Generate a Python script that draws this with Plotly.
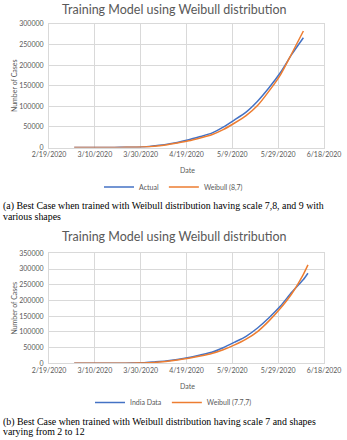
import plotly.graph_objects as go

# ---------------- data ----------------
dates_a = ["2020-03-01", "2020-03-06", "2020-03-11", "2020-03-16", "2020-03-21", "2020-03-26",
           "2020-03-31", "2020-04-05", "2020-04-10", "2020-04-15", "2020-04-20", "2020-04-25",
           "2020-04-30", "2020-05-05", "2020-05-10", "2020-05-15", "2020-05-20", "2020-05-25",
           "2020-05-30", "2020-06-04", "2020-06-09"]
actual_a = [3, 31, 62, 114, 330, 727, 1397, 4288, 7600, 12380, 18600, 26500,
            34860, 49400, 67150, 85940, 112360, 144950, 182140, 226770, 266598]
weibull_a = [2, 15, 40, 90, 220, 520, 1100, 2900, 6300, 10900, 16300, 23300,
             31000, 43500, 59500, 77500, 102000, 137000, 176500, 229000, 283000]

dates_b = dates_a + ["2020-06-11"]
actual_b = actual_a + [286579]
weibull_b = [1, 10, 30, 75, 190, 470, 1050, 2700, 6000, 10500, 16000, 23000,
             31000, 43000, 58500, 77000, 101000, 135000, 175000, 222000, 283000, 313000]

x_tickvals = ["2020-02-19", "2020-03-10", "2020-03-30", "2020-04-19", "2020-05-09", "2020-05-29", "2020-06-18"]
x_ticktext = ["2/19/2020", "3/10/2020", "3/30/2020", "4/19/2020", "5/9/2020", "5/29/2020", "6/18/2020"]

title_text = "Training Model using Weibull distribution"
y_title = "Number of Cases"
x_title = "Date"
names_a = ["Actual", "Weibull (8,7)"]
names_b = ["India Data", "Weibull (7.7,7)"]
caption_a = ["(a) Best Case when trained with Weibull distribution having scale 7,8, and 9 with",
             "various shapes"]
caption_b = ["(b) Best Case when trained with Weibull distribution having scale 7 and shapes",
             "varying from 2 to 12"]

# ---------------- style ----------------
W, H = 347, 440
BLUE = "#4472C4"
ORANGE = "#ED7D31"
GRID = "#D9D9D9"
TXT = "#595959"
SANS = "Lato"
SERIF = "Liberation Serif"


def py(p):
    return 1 - p / H


def px(p):
    return p / W


fig = go.Figure()
fig.add_trace(go.Scatter(x=dates_a, y=actual_a, name=names_a[0], mode="lines",
                         line=dict(color=BLUE, width=1.5, shape="spline", smoothing=0.6),
                         xaxis="x", yaxis="y", legend="legend"))
fig.add_trace(go.Scatter(x=dates_a, y=weibull_a, name=names_a[1], mode="lines",
                         line=dict(color=ORANGE, width=1.5, shape="spline", smoothing=0.6),
                         xaxis="x", yaxis="y", legend="legend"))
fig.add_trace(go.Scatter(x=dates_b, y=actual_b, name=names_b[0], mode="lines",
                         line=dict(color=BLUE, width=1.5, shape="spline", smoothing=0.6),
                         xaxis="x2", yaxis="y2", legend="legend2"))
fig.add_trace(go.Scatter(x=dates_b, y=weibull_b, name=names_b[1], mode="lines",
                         line=dict(color=ORANGE, width=1.5, shape="spline", smoothing=0.6),
                         xaxis="x2", yaxis="y2", legend="legend2"))

xax = dict(type="date", range=["2020-02-19", "2020-06-18"], tickvals=x_tickvals, ticktext=x_ticktext,
           showgrid=True, gridcolor=GRID, gridwidth=1, showline=True, linecolor=GRID, linewidth=1,
           mirror=True, zeroline=False, ticks="", tickfont=dict(family=SANS, size=7, color=TXT),
           domain=[px(49), px(324)], fixedrange=True, automargin=False)
yax = dict(showgrid=True, gridcolor=GRID, gridwidth=1, showline=True, linecolor=GRID, linewidth=1,
           mirror=True, zeroline=False, ticks="", tickformat="d", dtick=50000,
           ticklabelstandoff=3, automargin=False,
           title=dict(text=y_title, font=dict(family=SANS, size=7, color=TXT), standoff=0),
           tickfont=dict(family=SANS, size=7, color=TXT), fixedrange=True)

legend_common = dict(orientation="h", xanchor="center", x=0.5, yanchor="middle",
                     font=dict(family=SANS, size=7, color=TXT), bgcolor="rgba(0,0,0,0)",
                     itemwidth=30, tracegroupgap=0)

fig.update_layout(
    width=W, height=H, margin=dict(l=0, r=0, t=0, b=0, autoexpand=False),
    paper_bgcolor="white", plot_bgcolor="white",
    xaxis=dict(xax, anchor="y"),
    yaxis=dict(yax, range=[0, 300000], domain=[py(147.5), py(24)], anchor="x"),
    xaxis2=dict(xax, anchor="y2"),
    yaxis2=dict(yax, range=[0, 350000], domain=[py(363.3), py(253.3)], anchor="x2"),
    legend=dict(legend_common, y=py(187)),
    legend2=dict(legend_common, y=py(402.5)),
    showlegend=True,
    hovermode=False,
)

ann = []
for yc in (10, 236.7):
    ann.append(dict(text=title_text, x=px(174), y=py(yc), xref="paper", yref="paper",
                    xanchor="center", yanchor="middle", showarrow=False,
                    font=dict(family=SANS, size=12.5, color=TXT)))
for yc in (170, 385.7):
    ann.append(dict(text=x_title, x=px(187), y=py(yc), xref="paper", yref="paper",
                    xanchor="center", yanchor="middle", showarrow=False,
                    font=dict(family=SANS, size=7, color=TXT)))
for lines, ys in ((caption_a, (206.5, 216.5)), (caption_b, (421.7, 431.2))):
    for t, yc in zip(lines, ys):
        ann.append(dict(text=t, x=px(1), y=py(yc), xref="paper", yref="paper",
                        xanchor="left", yanchor="middle", showarrow=False,
                        font=dict(family=SERIF, size=9.9, color="black")))
fig.update_layout(annotations=ann)

fig.write_html("out.html", config={"displayModeBar": False},
               post_script="document.body.style.margin='0';")
